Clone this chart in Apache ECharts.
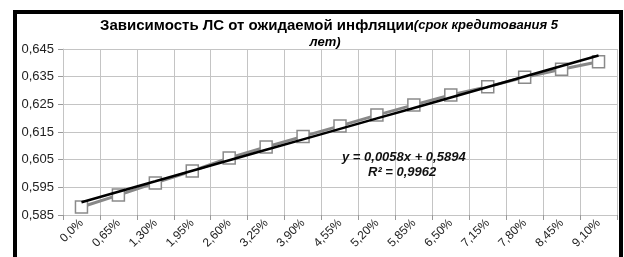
<!DOCTYPE html>
<html>
<head>
<meta charset="utf-8">
<script src="https://cdn.jsdelivr.net/npm/echarts@6/dist/echarts.min.js"></script>
<style>
  html, body { margin: 0; padding: 0; background: #fff; }
  #main { width: 624px; height: 257px; }
</style>
</head>
<body>
<div id="main"></div>
<script>
var categories = ['0,0%', '0,65%', '1,30%', '1,95%', '2,60%', '3,25%', '3,90%', '4,55%',
    '5,20%', '5,85%', '6,50%', '7,15%', '7,80%', '8,45%', '9,10%'];
var lsValues = [0.5879, 0.5922, 0.5966, 0.6009, 0.6056, 0.6096, 0.6134, 0.6172,
    0.6211, 0.6248, 0.6284, 0.6314, 0.6348, 0.6377, 0.6404];
var equationText = 'y = 0,0058x + 0,5894';
var r2Text = 'R² = 0,9962';

// linear trend line (least squares over the series)
function linearFit(vals) {
    var n = vals.length, sx = 0, sy = 0, sxy = 0, sxx = 0;
    vals.forEach(function (v, i) { sx += i; sy += v; sxy += i * v; sxx += i * i; });
    var k = (n * sxy - sx * sy) / (n * sxx - sx * sx);
    var b = (sy - k * sx) / n;
    return vals.map(function (v, i) { return +(k * i + b).toFixed(5); });
}
var trendValues = linearFit(lsValues);

var myChart = echarts.init(document.getElementById('main'));
var gridColor = '#c4c4c4';

var option = {
    animation: false,
    title: [
        {
            left: 324, top: 13, textAlign: 'center',
            text: '{a|Зависимость ЛС от ожидаемой инфляции}{b|(срок кредитования 5}',
            textStyle: {
                rich: {
                    a: { fontFamily: 'Liberation Sans', fontSize: 15, fontWeight: 'bold', color: '#000' },
                    b: { fontFamily: 'Liberation Sans', fontSize: 13, fontWeight: 'bold', fontStyle: 'italic', color: '#000' }
                }
            }
        },
        {
            left: 320, top: 31, textAlign: 'center',
            text: 'лет)',
            textStyle: { fontFamily: 'Liberation Sans', fontSize: 13, fontWeight: 'bold', fontStyle: 'italic', color: '#000' }
        }
    ],
    graphic: [
        {
            type: 'rect', silent: true, z: 100,
            shape: { x: 15, y: 12, width: 606, height: 300 },
            style: { fill: 'none', stroke: '#000', lineWidth: 4 }
        },
        {
            type: 'text', left: 342, top: 151, z: 100,
            style: { text: equationText, fill: '#111',
                font: 'italic bold 13px "Liberation Sans"' }
        },
        {
            type: 'text', left: 368, top: 166, z: 100,
            style: { text: r2Text, fill: '#111',
                font: 'italic bold 13px "Liberation Sans"' }
        }
    ],
    grid: { left: 63, right: 7, top: 49, bottom: 42, containLabel: false },
    xAxis: {
        type: 'category',
        data: categories,
        boundaryGap: true,
        axisLine: { show: true, lineStyle: { color: gridColor } },
        axisTick: { show: true, length: 5, lineStyle: { color: '#999' } },
        splitLine: { show: true, lineStyle: { color: gridColor } },
        axisLabel: {
            interval: 0, rotate: 45, margin: 6,
            fontFamily: 'Liberation Sans', fontSize: 12, color: '#222'
        }
    },
    yAxis: {
        type: 'value',
        min: 0.585, max: 0.645, interval: 0.01,
        axisLine: { show: true, lineStyle: { color: gridColor } },
        axisTick: { show: true, length: 5, lineStyle: { color: '#999' } },
        splitLine: { show: true, lineStyle: { color: gridColor } },
        axisLabel: {
            margin: 9,
            fontFamily: 'Liberation Sans', fontSize: 13, color: '#222',
            formatter: function (v) { return v.toFixed(3).replace('.', ','); }
        }
    },
    series: [
        {
            name: 'ЛС',
            type: 'line',
            data: lsValues,
            z: 2,
            lineStyle: { color: '#888', width: 3 },
            symbol: 'rect',
            symbolSize: 12,
            itemStyle: { color: '#fff', borderColor: '#8a8a8a', borderWidth: 1.5 }
        },
        {
            name: 'Линейный тренд',
            type: 'line',
            data: trendValues,
            z: 3,
            showSymbol: false,
            symbol: 'none',
            lineStyle: { color: '#000', width: 2.5 }
        }
    ]
};

myChart.setOption(option);
</script>
</body>
</html>
